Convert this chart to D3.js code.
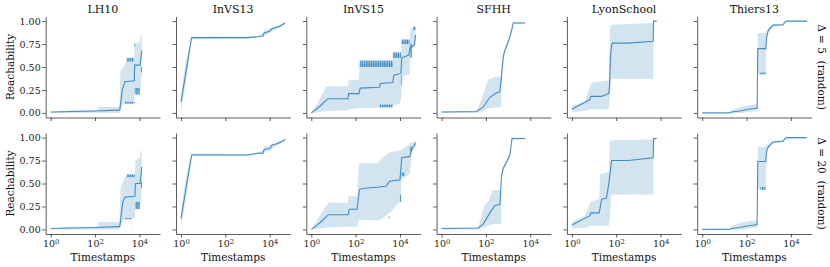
<!DOCTYPE html>
<html>
<head>
<meta charset="utf-8">
<script src="https://cdn.jsdelivr.net/npm/d3@7"></script>
<style>
  body { margin: 0; background: #fff; }
  svg text { font-family: "DejaVu Serif", "Liberation Serif", serif; }
  .axis path, .axis line { stroke: #333; stroke-width: 0.8; }
  .axis text { fill: #222; font-size: 9.5px; }
</style>
</head>
<body>
<div class="chart"></div>
<script>
var datasets = ['LH10', 'InVS13', 'InVS15', 'SFHH', 'LyonSchool', 'Thiers13'];
var rowLabels = ['\u0394 = 5  (random)', '\u0394 = 20  (random)'];
var yTicks = [0, 0.25, 0.5, 0.75, 1];
var xTicks = [1, 100, 10000];

// median lines [timestamp, reachability], bands [timestamp, low, high], dark edges [t0, t1, y0, y1]
var lh10_d5_med = [[1, 0.01], [100, 0.02], [1122, 0.03], [1300, 0.03], [1700, 0.25], [2239, 0.34], [5888, 0.35], [6100, 0.52], [10715, 0.52], [12882, 0.68]];
var lh10_d5_band = [[1, 0, 0.01], [10.5, 0, 0.03], [141, 0, 0.03], [141, 0, 0.065], [1259, 0, 0.065], [1400, 0.03, 0.45], [2000, 0.11, 0.5], [2692, 0.11, 0.58], [5888, 0.11, 0.58], [6100, 0.22, 0.74], [10715, 0.25, 0.78], [11500, 0.28, 0.86], [12882, 0.45, 0.86]];
var lh10_d5_dark = [[2100, 5900, 0.1, 0.12], [2700, 5800, 0.56, 0.6], [6200, 10500, 0.2, 0.27], [6000, 6600, 0.72, 0.76], [11800, 12882, 0.44, 0.5]];

var lh10_d20_med = [[1, 0.01], [100, 0.02], [1122, 0.03], [1300, 0.03], [1800, 0.3], [2239, 0.35], [6310, 0.36], [6600, 0.5], [10715, 0.5], [12882, 0.68]];
var lh10_d20_band = [[1, 0, 0.01], [10.5, 0, 0.03], [141, 0, 0.03], [141, 0, 0.08], [1259, 0, 0.08], [1400, 0.03, 0.45], [2000, 0.12, 0.55], [2692, 0.12, 0.59], [6310, 0.12, 0.59], [6600, 0.22, 0.75], [10715, 0.25, 0.78], [11500, 0.3, 0.86], [12882, 0.45, 0.86]];
var lh10_d20_dark = [[2200, 4400, 0.11, 0.125], [2692, 6200, 0.57, 0.6], [4467, 4600, 0, 0.12], [6600, 10500, 0.22, 0.3], [11800, 12882, 0.45, 0.52]];

var invs13_d5_med = [[1, 0.12], [3, 0.82], [1000, 0.82], [3000, 0.83], [5000, 0.84], [5600, 0.87], [10000, 0.89], [13000, 0.92], [20000, 0.93], [30000, 0.95], [50000, 0.98]];
var invs13_d5_band = [[1, 0.03, 0.2], [1.6, 0.3, 0.55], [3, 0.8, 0.83], [1000, 0.81, 0.83], [3000, 0.82, 0.84], [5000, 0.82, 0.86], [5600, 0.84, 0.9], [10000, 0.87, 0.92], [20000, 0.91, 0.95], [30000, 0.93, 0.96], [50000, 0.97, 0.99]];
var invs13_d5_dark = [];

var invs13_d20_med = [[1, 0.12], [3, 0.81], [1000, 0.81], [3000, 0.83], [5000, 0.83], [5600, 0.87], [10000, 0.88], [13000, 0.92], [20000, 0.93], [30000, 0.95], [50000, 0.98]];
var invs13_d20_band = [[1, 0.03, 0.2], [1.6, 0.3, 0.55], [3, 0.8, 0.83], [1000, 0.8, 0.82], [3000, 0.82, 0.84], [5000, 0.82, 0.86], [5600, 0.84, 0.9], [10000, 0.86, 0.92], [20000, 0.91, 0.95], [30000, 0.93, 0.96], [50000, 0.97, 0.99]];
var invs13_d20_dark = [];

var invs15_d5_med = [[1, 0], [2.4, 0.07], [5.6, 0.155], [45, 0.155], [48, 0.21], [141, 0.21], [160, 0.27], [1200, 0.28], [1300, 0.32], [4800, 0.33], [5200, 0.41], [11000, 0.43], [12000, 0.6], [25000, 0.63], [28000, 0.7], [45000, 0.74], [50119, 0.85]];
var invs15_d5_band = [[1, 0, 0], [2.4, 0.01, 0.15], [4.8, 0.02, 0.29], [45, 0.03, 0.29], [48, 0.04, 0.36], [141, 0.05, 0.36], [151, 0.05, 0.53], [1200, 0.06, 0.54], [4786, 0.08, 0.55], [5000, 0.08, 0.63], [10000, 0.1, 0.64], [11482, 0.17, 0.64], [12000, 0.4, 0.77], [27000, 0.42, 0.79], [30000, 0.7, 0.92], [50119, 0.75, 0.94]];
var invs15_d5_dark = [[151, 4786, 0.5, 0.57], [4786, 11000, 0.6, 0.66], [11500, 27000, 0.75, 0.8], [1200, 4786, 0.06, 0.09], [11000, 12500, 0.3, 0.41], [28000, 35000, 0.6, 0.75], [40000, 50119, 0.9, 0.94]];

var invs15_d20_med = [[1, 0], [2.4, 0.07], [5.9, 0.16], [46, 0.16], [52, 0.22], [115, 0.22], [150, 0.435], [214, 0.445], [2400, 0.47], [3400, 0.525], [10000, 0.54], [12000, 0.78], [27500, 0.795], [35000, 0.885], [52000, 0.94]];
var invs15_d20_band = [[1, 0, 0], [2.4, 0.01, 0.15], [5.9, 0.02, 0.29], [45, 0.03, 0.29], [48, 0.03, 0.36], [115, 0.03, 0.36], [140, 0.1, 0.72], [1000, 0.1, 0.72], [1200, 0.1, 0.75], [3400, 0.18, 0.84], [10000, 0.3, 0.86], [12000, 0.55, 0.87], [27500, 0.6, 0.93], [35000, 0.85, 0.95], [52000, 0.9, 0.97]];
var invs15_d20_dark = [[3000, 3400, 0.12, 0.14], [10000, 11000, 0.3, 0.38], [12000, 16000, 0.58, 0.62], [27500, 35000, 0.85, 0.9]];

var sfhh_d5_med = [[1, 0.01], [38, 0.015], [76, 0.065], [151, 0.17], [302, 0.22], [427, 0.23], [501, 0.4], [603, 0.61], [700, 0.68], [1000, 0.77], [1445, 0.9], [1698, 0.98], [5754, 0.98]];
var sfhh_d5_band = [[1, 0, 0.015], [38, 0, 0.02], [76, 0.02, 0.2], [126, 0.05, 0.36], [250, 0.06, 0.39], [480, 0.065, 0.4], [501, 0.3, 0.5], [603, 0.59, 0.63], [1000, 0.75, 0.79], [1445, 0.88, 0.92], [1698, 0.97, 0.99], [5754, 0.97, 0.99]];
var sfhh_d5_dark = [];

var sfhh_d20_med = [[1, 0.01], [45, 0.015], [76, 0.06], [151, 0.18], [251, 0.26], [427, 0.27], [501, 0.575], [603, 0.665], [800, 0.72], [1200, 0.81], [1500, 0.99], [5754, 0.99]];
var sfhh_d20_band = [[1, 0, 0.015], [45, 0, 0.02], [80, 0.02, 0.25], [126, 0.04, 0.3], [200, 0.06, 0.43], [480, 0.06, 0.43], [501, 0.55, 0.6], [603, 0.64, 0.69], [1200, 0.79, 0.83], [1500, 0.98, 1], [5754, 0.98, 1]];
var sfhh_d20_dark = [];

var lyon_d5_med = [[1, 0.04], [6.5, 0.145], [7.2, 0.18], [22, 0.18], [36, 0.2], [46, 0.21], [50, 0.3], [55, 0.6], [62, 0.74], [68, 0.76], [347, 0.76], [4677, 0.78], [4800, 1], [6607, 1]];
var lyon_d5_band = [[1, 0.01, 0.08], [3.9, 0.02, 0.12], [6.9, 0.04, 0.3], [8.5, 0.04, 0.33], [36, 0.04, 0.35], [45, 0.04, 0.35], [52, 0.2, 0.9], [58, 0.37, 0.96], [4677, 0.37, 0.98], [4700, 0.99, 1], [6607, 0.99, 1]];
var lyon_d5_dark = [];

var lyon_d20_med = [[1, 0.047], [6.5, 0.15], [7.2, 0.18], [17, 0.18], [22, 0.33], [36, 0.34], [45, 0.48], [52, 0.6], [62, 0.75], [347, 0.75], [4677, 0.78], [4800, 0.99], [6607, 0.99]];
var lyon_d20_band = [[1, 0.01, 0.08], [3.9, 0.02, 0.15], [6.9, 0.04, 0.3], [17, 0.04, 0.33], [19, 0.04, 0.6], [36, 0.04, 0.62], [45, 0.04, 0.62], [52, 0.1, 0.96], [58, 0.38, 0.97], [4677, 0.38, 0.98], [4700, 0.98, 1], [6607, 0.98, 1]];
var lyon_d20_dark = [];

var thiers_d5_med = [[1, 0], [18, 0], [21, 0.01], [50, 0.02], [120, 0.04], [282, 0.05], [300, 0.05], [320, 0.7], [741, 0.7], [800, 0.82], [955, 0.9], [1585, 0.956], [4467, 0.96], [5370, 0.99], [6310, 1], [55000, 1]];
var thiers_d5_band = [[1, 0, 0], [18, 0, 0], [21, 0, 0.03], [50, 0, 0.06], [120, 0.01, 0.08], [300, 0.02, 0.1], [320, 0.41, 0.87], [741, 0.43, 0.87], [780, 0.8, 0.88], [955, 0.88, 0.92], [1585, 0.94, 0.97], [4467, 0.95, 0.97], [6310, 0.99, 1], [55000, 0.99, 1]];
var thiers_d5_dark = [[420, 741, 0.42, 0.44]];

var thiers_d20_med = [[1, 0], [18, 0], [21, 0.01], [50, 0.02], [120, 0.04], [282, 0.05], [300, 0.05], [320, 0.74], [741, 0.74], [800, 0.85], [955, 0.9], [1585, 0.95], [4467, 0.96], [5370, 0.99], [6310, 1], [52000, 1]];
var thiers_d20_band = [[1, 0, 0], [18, 0, 0], [21, 0, 0.04], [50, 0, 0.07], [120, 0.01, 0.09], [300, 0.02, 0.1], [320, 0.44, 0.9], [741, 0.45, 0.9], [780, 0.82, 0.92], [955, 0.88, 0.93], [1585, 0.94, 0.97], [4467, 0.95, 0.97], [6310, 0.99, 1], [52000, 0.99, 1]];
var thiers_d20_dark = [[420, 741, 0.43, 0.46]];

var grid = [
  [
    {med: lh10_d5_med, band: lh10_d5_band, dark: lh10_d5_dark},
    {med: invs13_d5_med, band: invs13_d5_band, dark: invs13_d5_dark},
    {med: invs15_d5_med, band: invs15_d5_band, dark: invs15_d5_dark},
    {med: sfhh_d5_med, band: sfhh_d5_band, dark: sfhh_d5_dark},
    {med: lyon_d5_med, band: lyon_d5_band, dark: lyon_d5_dark},
    {med: thiers_d5_med, band: thiers_d5_band, dark: thiers_d5_dark}
  ],
  [
    {med: lh10_d20_med, band: lh10_d20_band, dark: lh10_d20_dark},
    {med: invs13_d20_med, band: invs13_d20_band, dark: invs13_d20_dark},
    {med: invs15_d20_med, band: invs15_d20_band, dark: invs15_d20_dark},
    {med: sfhh_d20_med, band: sfhh_d20_band, dark: sfhh_d20_dark},
    {med: lyon_d20_med, band: lyon_d20_band, dark: lyon_d20_dark},
    {med: thiers_d20_med, band: thiers_d20_band, dark: thiers_d20_dark}
  ]
];

var serif = '"DejaVu Serif", "Liberation Serif", serif';
var svg = d3.select('.chart').append('svg')
  .attr('width', 830)
  .attr('height', 267);

var pw = 114.3, ph = 101;
var lefts = [45.7, 176, 306.3, 436.6, 566.9, 697.2];
var tops = [16.5, 133];
var blue = '#1f77b4';

// vertical hatching for the jittery band edges
svg.append('defs').append('pattern')
    .attr('id', 'hatch')
    .attr('width', 1.8)
    .attr('height', 4)
    .attr('patternUnits', 'userSpaceOnUse')
  .append('rect')
    .attr('width', 1.2)
    .attr('height', 4)
    .attr('fill', blue);

var x = d3.scaleLog()
  .domain([Math.pow(10, -0.226), Math.pow(10, 4.93)])
  .range([0, pw]);
var y = d3.scaleLinear()
  .domain([-0.05, 1.05])
  .range([ph, 0]);

var area = d3.area()
  .x(function (d) { return x(d[0]); })
  .y0(function (d) { return y(d[1]); })
  .y1(function (d) { return y(d[2]); });
var line = d3.line()
  .x(function (d) { return x(d[0]); })
  .y(function (d) { return y(d[1]); });

grid.forEach(function (row, r) {
  row.forEach(function (p, c) {
    var g = svg.append('g')
      .attr('transform', 'translate(' + lefts[c] + ',' + tops[r] + ')');

    g.append('path')
      .attr('d', area(p.band))
      .attr('fill', blue)
      .attr('fill-opacity', 0.2);

    g.selectAll('.dark')
      .data(p.dark)
      .enter().append('rect')
      .attr('class', 'dark')
      .attr('x', function (d) { return x(d[0]); })
      .attr('width', function (d) { return x(d[1]) - x(d[0]); })
      .attr('y', function (d) { return y(d[3]); })
      .attr('height', function (d) { return y(d[2]) - y(d[3]); })
      .attr('fill', 'url(#hatch)')
      .attr('opacity', 0.9);

    g.append('path')
      .attr('d', line(p.med))
      .attr('fill', 'none')
      .attr('stroke', blue)
      .attr('stroke-opacity', 0.8)
      .attr('stroke-width', 1.1);

    // axes
    var ax = d3.axisBottom(x).tickValues(xTicks).tickSize(3.5).tickSizeOuter(0);
    var gx = g.append('g')
      .attr('class', 'axis')
      .attr('font-family', serif)
      .attr('transform', 'translate(0,' + ph + ')')
      .call(ax);
    gx.selectAll('text').each(function (d) {
      var t = d3.select(this);
      t.text('');
      if (r === 1) {
        t.attr('y', 6).attr('dy', '0.71em');
        t.append('tspan').text('10');
        t.append('tspan')
          .attr('dy', '-0.45em')
          .attr('font-size', '6.8px')
          .text(Math.round(Math.log10(d)));
      }
    });

    var ay = d3.axisLeft(y).tickValues(yTicks).tickSize(3.5).tickSizeOuter(0)
      .tickFormat(c === 0 ? d3.format('.2f') : function () { return ''; });
    var gy = g.append('g')
      .attr('class', 'axis')
      .attr('font-family', serif)
      .call(ay);
    gy.selectAll('text').attr('x', -5);

    if (r === 0) {
      g.append('text')
        .attr('x', pw / 2)
        .attr('y', -4)
        .attr('text-anchor', 'middle')
        .attr('font-family', serif)
        .attr('font-size', '11px')
        .attr('fill', '#111')
        .text(datasets[c]);
    } else {
      g.append('text')
        .attr('x', pw / 2)
        .attr('y', ph + 27)
        .attr('text-anchor', 'middle')
        .attr('font-family', serif)
        .attr('font-size', '10.5px')
        .attr('fill', '#111')
        .text('Timestamps');
    }

    if (c === 0) {
      g.append('text')
        .attr('transform', 'rotate(-90)')
        .attr('x', -y(0.5))
        .attr('y', -32)
        .attr('text-anchor', 'middle')
        .attr('font-family', serif)
        .attr('font-size', '10.5px')
        .attr('fill', '#111')
        .text('Reachability');
    }
    if (c === 5) {
      g.append('text')
        .attr('transform', 'rotate(90)')
        .attr('x', y(0.5))
        .attr('y', -(pw + 7))
        .attr('text-anchor', 'middle')
        .attr('font-family', serif)
        .attr('font-size', '10.5px')
        .attr('fill', '#111')
        .attr('xml:space', 'preserve')
        .style('white-space', 'pre')
        .text(rowLabels[r]);
    }
  });
});
</script>
</body>
</html>
